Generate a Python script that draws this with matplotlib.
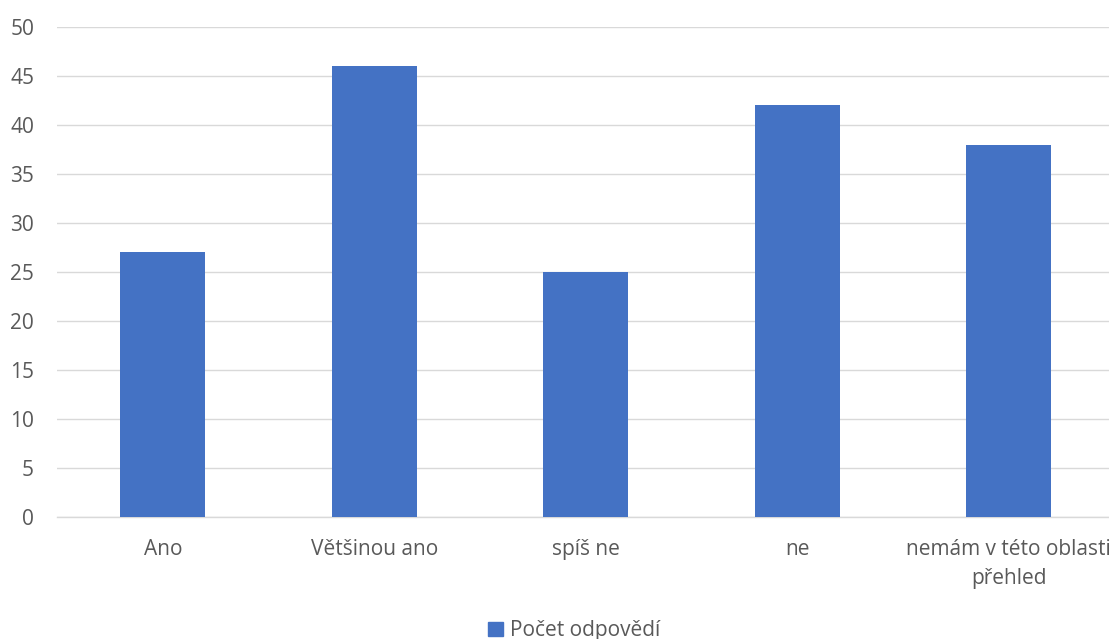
import matplotlib
matplotlib.use("Agg")
import matplotlib.pyplot as plt
from matplotlib.patches import Patch

categories = ["Ano", "Většinou ano", "spíš ne", "ne", "nemám v této oblasti\npřehled"]
counts = [27, 46, 25, 42, 38]
series_name = "Počet odpovědí"
y_ticks = [0, 5, 10, 15, 20, 25, 30, 35, 40, 45, 50]

bar_color = "#4472C4"
text_color = "#595959"
grid_color = "#D9D9D9"

plt.rcParams["font.family"] = ["Open Sans", "DejaVu Sans"]

W, H = 1109, 639
fig = plt.figure(figsize=(W / 100, H / 100), dpi=100)
fig.patch.set_facecolor("white")

# plot area: x from 57 px, category slot 211.5 px wide, extends past right edge
left_px, slot_px = 57, 211.5
ax = fig.add_axes([left_px / W, (H - 517) / H, (W - left_px) / W, 490 / H])

x = range(len(categories))
ax.bar(x, counts, width=0.40, color=bar_color, zorder=3)

ax.set_xlim(-0.5, -0.5 + (W - left_px) / slot_px)
ax.set_ylim(0, 50)
ax.set_yticks(y_ticks)
ax.set_xticks(list(x))
ax.set_xticklabels(categories, linespacing=1.5)

ax.grid(axis="y", color=grid_color, linewidth=1.0, zorder=0)
ax.set_axisbelow(True)
for s in ax.spines.values():
    s.set_visible(False)
ax.axhline(0, color=grid_color, linewidth=1.0, zorder=1, clip_on=False)

ax.tick_params(axis="y", length=0, pad=16.5, labelsize=15, labelcolor=text_color)
ax.tick_params(axis="x", length=0, pad=15.5, labelsize=15, labelcolor=text_color)

handle = Patch(facecolor=bar_color, edgecolor=bar_color)
fig.legend([handle], [series_name], loc="center", bbox_to_anchor=(0.518, 0.013),
           frameon=False, fontsize=15, labelcolor=text_color,
           handlelength=0.7, handleheight=0.7, handletextpad=0.35,
           borderpad=0, borderaxespad=0)

fig.savefig("out.png", dpi=100, facecolor="white")
